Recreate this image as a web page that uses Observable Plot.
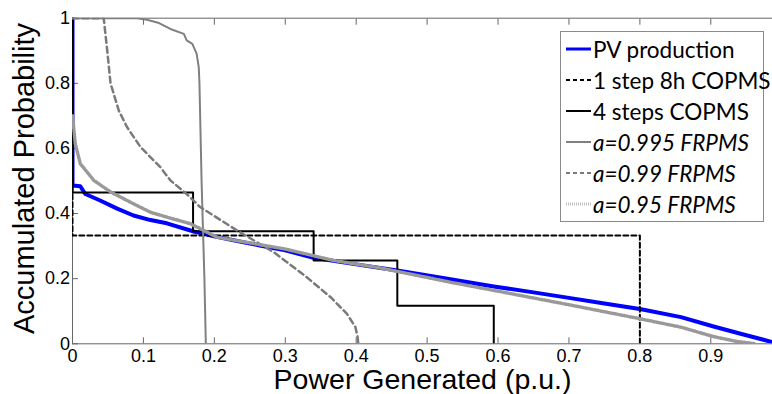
<!DOCTYPE html>
<html><head><meta charset="utf-8">
<script src="https://cdn.jsdelivr.net/npm/d3@7"></script>
<script src="https://cdn.jsdelivr.net/npm/@observablehq/plot@0.6"></script>
<style>
html,body{margin:0;padding:0;background:#fff;}
#wrap{position:relative;width:772px;height:394px;overflow:hidden;}
#legend{position:absolute;left:560px;top:31px;width:202px;height:189px;border:1px solid #8a8a8a;background:#fff;font-family:Lato,"Open Sans",sans-serif;font-size:22.5px;color:#000;}
.row{position:absolute;left:4px;height:30px;display:flex;align-items:center;white-space:nowrap;}
.row svg{margin-right:1px;}
.it{font-style:italic;}
</style>
</head><body>
<div id="wrap"><div id="chart"></div><div id="legend"></div></div>
<script>
const xTicks = [0, 0.1, 0.2, 0.3, 0.4, 0.5, 0.6, 0.7, 0.8, 0.9];
const yTicks = [0, 0.2, 0.4, 0.6, 0.8, 1];
const xLabel = "Power Generated (p.u.)";
const yLabel = "Accumulated Probability";
const seriesNames = ["PV production", "1 step 8h COPMS", "4 steps COPMS", "a=0.995 FRPMS", "a=0.99 FRPMS", "a=0.95 FRPMS"];

const pvX = [0, 0, 0.011, 0.018, 0.039, 0.063, 0.086, 0.11, 0.133, 0.171, 0.2, 0.227, 0.264, 0.3, 0.34, 0.4, 0.458, 0.533, 0.594, 0.65, 0.7, 0.75, 0.8, 0.858, 0.904, 0.942, 0.987];
const pvP = [1, 0.486, 0.484, 0.46, 0.44, 0.415, 0.394, 0.38, 0.37, 0.345, 0.33, 0.318, 0.302, 0.287, 0.264, 0.244, 0.225, 0.198, 0.176, 0.158, 0.141, 0.124, 0.107, 0.082, 0.053, 0.031, 0.005];

const step1X = [0, 0, 0.8];
const step1P = [1, 0.333, 0];

const step4X = [0, 0, 0.17, 0.34, 0.458, 0.594];
const step4P = [1, 0.465, 0.346, 0.256, 0.117, 0];

const a995X = [0, 0.091, 0.105, 0.122, 0.138, 0.157, 0.161, 0.169, 0.175, 0.178, 0.179, 0.181, 0.182, 0.184, 0.186, 0.188];
const a995P = [1, 1, 0.995, 0.985, 0.967, 0.952, 0.932, 0.921, 0.891, 0.85, 0.8, 0.6, 0.5, 0.35, 0.2, 0];

const a99X = [0, 0.044, 0.049, 0.0536, 0.0653, 0.077, 0.096, 0.124, 0.138, 0.162, 0.18, 0.232, 0.284, 0.33, 0.364, 0.387, 0.399, 0.402, 0.403];
const a99P = [1, 1, 0.9, 0.8, 0.716, 0.665, 0.604, 0.542, 0.502, 0.458, 0.42, 0.348, 0.281, 0.205, 0.143, 0.092, 0.051, 0.02, 0];

const a95X = [0, 0.004, 0.011, 0.03, 0.054, 0.086, 0.11, 0.133, 0.166, 0.204, 0.298, 0.368, 0.434, 0.533, 0.594, 0.7, 0.8, 0.858, 0.904, 0.935, 0.963];
const a95P = [0.7, 0.614, 0.553, 0.502, 0.466, 0.43, 0.404, 0.389, 0.369, 0.327, 0.292, 0.256, 0.233, 0.189, 0.164, 0.12, 0.077, 0.051, 0.022, 0.008, 0];

const rows = (xs, ps) => xs.map((x, i) => ({x, p: ps[i]}));

const styles = [
  {stroke: "#0000ff", width: 4, dash: null, curve: "linear"},
  {stroke: "#000000", width: 2, dash: "5,3", curve: "step-after"},
  {stroke: "#000000", width: 2, dash: null, curve: "step-after"},
  {stroke: "#808080", width: 2, dash: null, curve: "linear"},
  {stroke: "#7a7a7a", width: 2.5, dash: "6,4", curve: "linear"},
  {stroke: "#999999", width: 3.5, dash: "1,2", curve: "linear"}
];
const datasets = [rows(pvX, pvP), rows(step1X, step1P), rows(step4X, step4P), rows(a995X, a995P), rows(a99X, a99P), rows(a95X, a95P)];

const fmt = d => String(d);

const chart = Plot.plot({
  width: 772, height: 394,
  marginLeft: 72, marginRight: 0, marginTop: 17.7, marginBottom: 50.7,
  x: {domain: [0, 0.987]},
  y: {domain: [0, 1]},
  style: {fontFamily: "Liberation Sans, Arial, sans-serif", fontSize: "18px", color: "#000", background: "#fff"},
  marks: [
    Plot.ruleY([0, 1], {stroke: "#666", strokeWidth: 1}),
    Plot.ruleX([0], {stroke: "#666", strokeWidth: 1}),
    Plot.axisX(xTicks, {anchor: "bottom", tickSize: -6, tickPadding: 11, tickFormat: fmt, stroke: "#666", fill: "#000", fontSize: 18, label: null}),
    Plot.axisX(xTicks, {anchor: "top", tickSize: -6, tickFormat: () => "", stroke: "#666", label: null}),
    Plot.axisY(yTicks, {anchor: "left", tickSize: -6, tickPadding: 8.5, tickFormat: fmt, stroke: "#666", fill: "#000", fontSize: 18, label: null}),
    ...datasets.map((d, i) => Plot.line(d, {
      x: "x", y: "p", stroke: styles[i].stroke, strokeWidth: styles[i].width,
      strokeDasharray: styles[i].dash, curve: styles[i].curve, clip: true
    })),
    Plot.text([xLabel], {frameAnchor: "bottom", dy: 36.5, text: d => d, fontSize: 28.5, fill: "#000", textAnchor: "middle", lineAnchor: "middle"}),
    Plot.text([yLabel], {frameAnchor: "left", dx: -48, dy: -2.5, rotate: -90, text: d => d, fontSize: 29, fill: "#000", textAnchor: "middle", lineAnchor: "middle"})
  ]
});
document.getElementById("chart").appendChild(chart);

const legend = document.getElementById("legend");
seriesNames.forEach((name, i) => {
  const s = styles[i];
  const row = document.createElement("div");
  row.className = "row";
  row.style.top = (2 + i * 31) + "px";
  const dash = s.dash ? ` stroke-dasharray="${i === 5 ? '1,1' : '4,3'}"` : "";
  const w = i === 0 ? 3 : (i === 5 ? 3 : 2);
  row.innerHTML = `<svg width="27" height="10"><line x1="1" y1="5" x2="26" y2="5" stroke="${i === 5 ? '#c0c0c0' : s.stroke}" stroke-width="${w}"${dash}/></svg><span class="${i >= 3 ? 'it' : ''}">${name}</span>`;
  legend.appendChild(row);
});
</script>
</body></html>
